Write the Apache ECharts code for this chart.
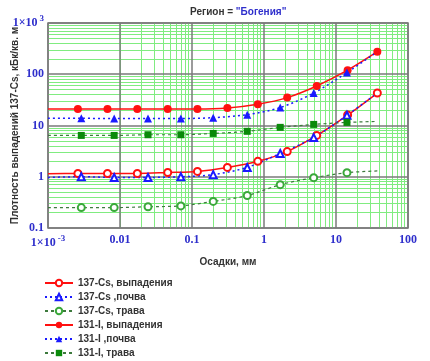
<!DOCTYPE html>
<html>
<head>
<meta charset="utf-8">
<script src="https://cdn.jsdelivr.net/npm/echarts@6/dist/echarts.min.js"></script>
<style>
  html, body { margin: 0; padding: 0; background: #fff; }
  #ec { width: 430px; height: 361px; }
</style>
</head>
<body>
<div id="ec"></div>
<script>
// x positions (precipitation, mm)
var xCirc = [0.0026, 0.0067, 0.0174, 0.046, 0.119, 0.31, 0.82, 2.1, 5.4, 14.5, 37.5];
var xTri = [0.0029, 0.0083, 0.0245, 0.07, 0.197, 0.585, 1.68, 4.9, 14.2];
var xFitStart = 0.001;
var xFitEnd = 37.5;

// series values, kBq/sq.m
var cs137Fallout = [1.16, 1.16, 1.16, 1.21, 1.27, 1.52, 2.0, 3.1, 6.4, 16, 43];
var cs137Soil = [1.0, 0.97, 0.97, 1.0, 1.1, 1.52, 2.85, 5.8, 15.8];
var cs137Grass = [0.25, 0.25, 0.26, 0.27, 0.33, 0.43, 0.7, 0.96, 1.2];
var i131Fallout = [21, 21, 21, 21, 21, 22, 26, 35, 59, 120, 275];
var i131Soil = [13.8, 13.7, 13.7, 13.7, 14.2, 16.3, 22.4, 43, 108];
var i131Grass = [6.4, 6.4, 6.6, 6.6, 7.0, 7.7, 9.2, 10.5, 11.5];

// fitted curve values at the plot's left edge and right end
var fitStart = [1.15, 0.97, 0.25, 21, 13.8, 6.4];
var fitEnd = [null, 43, 1.3, null, 275, 12];

var names = ["137-Cs, выпадения", "137-Cs ,почва", "137-Cs, трава", "131-I, выпадения", "131-I ,почва", "131-I, трава"];
var xTickLabels = ["1×10{sup|-3}", "0.01", "0.1", "1", "10", "100"];
var yTickLabels = ["0.1", "1", "10", "100", "1×10{sup|3}"];

function buildData(xs, ys, i) {
  var out = [{ value: [xFitStart, fitStart[i]], symbol: "none" }];
  for (var k = 0; k < xs.length; k++) out.push([xs[k], ys[k]]);
  if (fitEnd[i] != null) out.push({ value: [xFitEnd, fitEnd[i]], symbol: "none" });
  return out;
}

// minor log grid lines
var minorLines = [];
for (var d = -3; d <= 1; d++) {
  for (var m = 2; m <= 9; m++) minorLines.push({ xAxis: m * Math.pow(10, d) });
}
for (var d2 = -1; d2 <= 2; d2++) {
  for (var m2 = 2; m2 <= 9; m2++) minorLines.push({ yAxis: m2 * Math.pow(10, d2) });
}

var tickRich = {
  sup: { color: "#2f2fcc", fontFamily: "Liberation Serif", fontWeight: "bold", fontSize: 9, verticalAlign: "top", padding: [0, 0, 8, 2] }
};

var red = "#ff1010", blue = "#1a1aff", green = "#0a8a0a", lightGreen = "#3aa83a", dashGreen = "#3d7a3d";
var textFont = { fontFamily: "Liberation Sans", fontWeight: "bold", fontSize: 10, color: "#333" };

var myChart = echarts.init(document.getElementById("ec"));
myChart.setOption({
  animation: false,
  title: {
    text: '{a|Регион = }{b|"Богения"}',
    left: 185,
    top: 2,
    textStyle: {
      rich: {
        a: textFont,
        b: { fontFamily: "Liberation Sans", fontWeight: "bold", fontSize: 10, color: "#2f2fcc" }
      }
    }
  },
  grid: {
    left: 48,
    right: 22,
    top: 23,
    bottom: 133,
    containLabel: false,
    outerBoundsMode: "none",
    show: true,
    borderColor: "#7a7a7a",
    borderWidth: 1.5
  },
  legend: {
    orient: "vertical",
    left: 44,
    top: 278,
    height: 83,
    padding: 0,
    itemWidth: 28,
    itemHeight: 8,
    itemGap: 4,
    data: names,
    textStyle: textFont
  },
  xAxis: {
    type: "log",
    logBase: 10,
    min: 0.001,
    max: 100,
    z: 1,
    name: "Осадки, мм",
    nameLocation: "middle",
    nameGap: 29,
    nameMoveOverlap: false,
    nameTextStyle: textFont,
    axisLine: { show: false },
    axisTick: { show: false },
    axisLabel: {
      margin: 6,
      formatter: function (v, i) { return xTickLabels[i]; },
      color: "#2f2fcc",
      fontFamily: "Liberation Serif",
      fontWeight: "bold",
      fontSize: 12,
      rich: tickRich
    },
    splitLine: { show: true, lineStyle: { color: "#7a7a7a", width: 1.5 } }
  },
  yAxis: {
    type: "log",
    logBase: 10,
    min: 0.1,
    max: 1000,
    z: 1,
    name: "Плотность выпадений 137-Cs, кБк/кв. м",
    nameLocation: "middle",
    nameGap: 28,
    nameMoveOverlap: false,
    nameTextStyle: textFont,
    axisLine: { show: false },
    axisTick: { show: false },
    axisLabel: {
      margin: 4,
      formatter: function (v, i) { return yTickLabels[i]; },
      color: "#2f2fcc",
      fontFamily: "Liberation Serif",
      fontWeight: "bold",
      fontSize: 12,
      rich: tickRich
    },
    splitLine: { show: true, lineStyle: { color: "#7a7a7a", width: 1.5 } }
  },
  series: [
    {
      name: "grid",
      type: "line",
      data: [],
      silent: true,
      markLine: {
        z: 0,
        silent: true,
        symbol: ["none", "none"],
        label: { show: false },
        lineStyle: { color: "#80ec80", width: 1, type: "solid" },
        emphasis: { disabled: true },
        data: minorLines
      }
    },
    {
      name: names[0],
      type: "line",
      smooth: 0.3,
      data: buildData(xCirc, cs137Fallout, 0),
      symbol: "emptyCircle",
      symbolSize: 7,
      itemStyle: { color: red },
      lineStyle: { color: red, width: 1.5 }
    },
    {
      name: names[1],
      type: "line",
      smooth: 0.3,
      data: buildData(xTri, cs137Soil, 1),
      symbol: "emptyTriangle",
      symbolSize: 7,
      itemStyle: { color: blue },
      lineStyle: { color: blue, width: 1.5, type: [2, 3] }
    },
    {
      name: names[2],
      type: "line",
      smooth: 0.3,
      data: buildData(xTri, cs137Grass, 2),
      symbol: "emptyCircle",
      symbolSize: 7,
      itemStyle: { color: lightGreen },
      lineStyle: { color: dashGreen, width: 1.2, type: [3, 3] }
    },
    {
      name: names[3],
      type: "line",
      smooth: 0.3,
      data: buildData(xCirc, i131Fallout, 3),
      symbol: "circle",
      symbolSize: 8,
      itemStyle: { color: red },
      lineStyle: { color: red, width: 1.5 }
    },
    {
      name: names[4],
      type: "line",
      smooth: 0.3,
      data: buildData(xTri, i131Soil, 4),
      symbol: "triangle",
      symbolSize: 8,
      itemStyle: { color: blue },
      lineStyle: { color: blue, width: 1.5, type: [2, 3] }
    },
    {
      name: names[5],
      type: "line",
      smooth: 0.3,
      data: buildData(xTri, i131Grass, 5),
      symbol: "rect",
      symbolSize: 7,
      itemStyle: { color: green },
      lineStyle: { color: dashGreen, width: 1.2, type: [3, 3] }
    }
  ]
});
</script>
</body>
</html>
